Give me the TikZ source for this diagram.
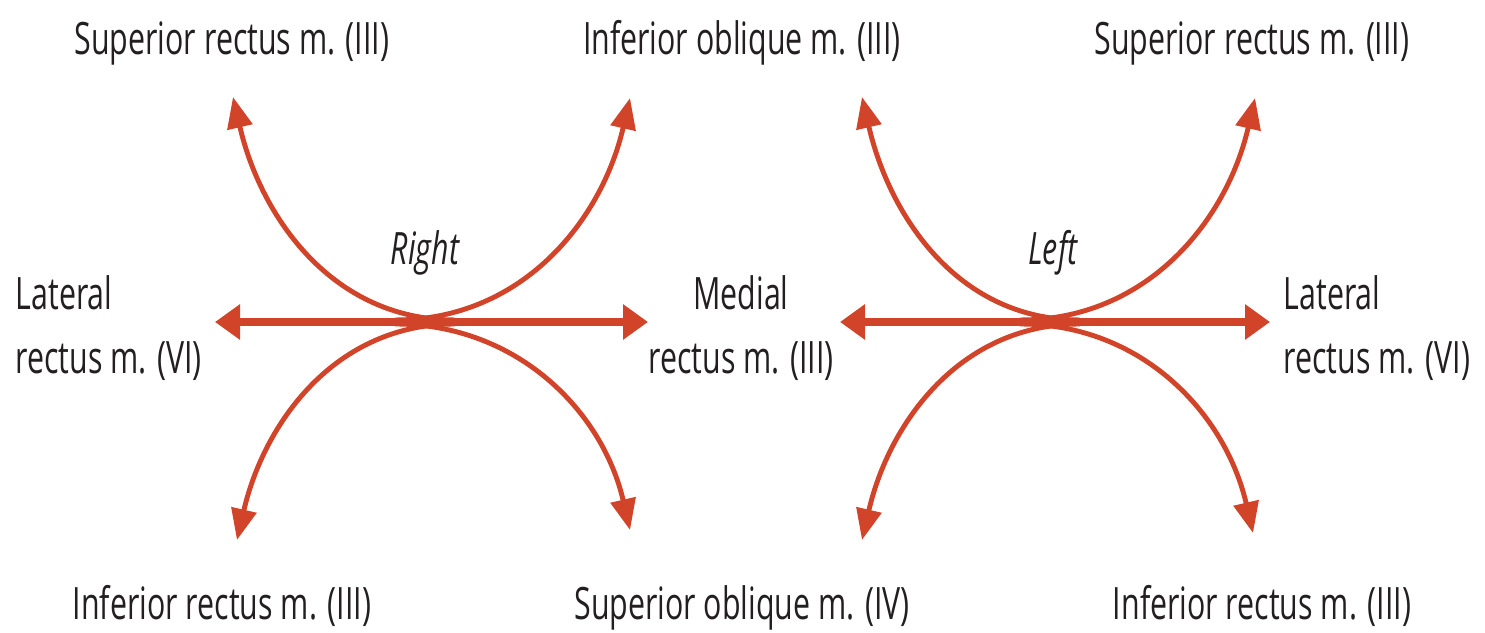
\documentclass[tikz,border=0pt]{standalone}
\usepackage{fontspec}
\setmainfont[FakeStretch=0.68]{Open Sans}
\usetikzlibrary{arrows.meta}
\definecolor{musclered}{RGB}{210,68,42}
\definecolor{labelgray}{RGB}{35,31,32}

\begin{document}
\begin{tikzpicture}[font=\fontsize{12.7}{18}\selectfont, text=labelgray,
    axis/.style={musclered, line width=2.3pt,
      {Triangle[length=0.25cm,width=0.34cm]}-{Triangle[length=0.25cm,width=0.34cm]}},
    pull/.style={musclered, line width=1.4pt, -{Triangle[length=0.31cm,width=0.25cm]}},
    lbl/.style={inner sep=0pt, anchor=base},
    side/.style={inner sep=0pt, align=left, anchor=west}]
  \useasboundingbox (0,0) rectangle (14.85,6.33);

  % right eye: centre and the ends of the six pulls
  \coordinate (rc) at (4.25,3.11);
  \coordinate (rlat) at (2.15,3.11);
  \coordinate (rmed) at (6.48,3.11);
  \coordinate (rsr) at (2.33,5.36);
  \coordinate (rio) at (6.30,5.35);
  \coordinate (rir) at (2.37,0.93);
  \coordinate (rso) at (6.30,1.03);

  % left eye
  \coordinate (lc) at (10.50,3.11);
  \coordinate (lmed) at (8.40,3.11);
  \coordinate (llat) at (12.70,3.11);
  \coordinate (lio) at (8.62,5.36);
  \coordinate (lsr) at (12.55,5.35);
  \coordinate (lso) at (8.62,0.93);
  \coordinate (lir) at (12.53,1.00);

  \draw[axis] (rlat) -- (rmed);
  \draw[pull] ([xshift=3mm,yshift=0.2mm]rc) to[out=180, in=-77] (rsr);
  \draw[pull] ([xshift=-3mm,yshift=0.2mm]rc) to[out=0, in=-103] (rio);
  \draw[pull] ([xshift=3mm,yshift=-0.2mm]rc) to[out=180, in=77] (rir);
  \draw[pull] ([xshift=-3mm,yshift=-0.2mm]rc) to[out=0, in=103] (rso);

  \draw[axis] (lmed) -- (llat);
  \draw[pull] ([xshift=3mm,yshift=0.2mm]lc) to[out=180, in=-77] (lio);
  \draw[pull] ([xshift=-3mm,yshift=0.2mm]lc) to[out=0, in=-103] (lsr);
  \draw[pull] ([xshift=3mm,yshift=-0.2mm]lc) to[out=180, in=77] (lso);
  \draw[pull] ([xshift=-3mm,yshift=-0.2mm]lc) to[out=0, in=103] (lir);

  % labels
  \node[lbl] (rsrlbl) at (2.32,5.78) {Superior rectus m. (III)};
  \node[lbl] (riolbl) at (7.42,5.78) {Inferior oblique m. (III)};
  \node[lbl] (lsrlbl) at (12.52,5.78) {Superior rectus m. (III)};
  \node[lbl] (rname) at (4.25,3.68) {\itshape Right};
  \node[lbl] (lname) at (10.53,3.68) {\itshape Left};
  \node[side] (rlatlbl) at (0.15,3.05) {Lateral\\rectus m. (VI)};
  \node[side, align=center, anchor=center] (medlbl) at (7.41,3.05) {Medial\\rectus m. (III)};
  \node[side] (llatlbl) at (12.83,3.05) {Lateral\\rectus m. (VI)};
  \node[lbl] (rirlbl) at (2.22,0.13) {Inferior rectus m. (III)};
  \node[lbl] (rsolbl) at (7.42,0.13) {Superior oblique m. (IV)};
  \node[lbl] (lirlbl) at (12.62,0.13) {Inferior rectus m. (III)};
\end{tikzpicture}
\end{document}
